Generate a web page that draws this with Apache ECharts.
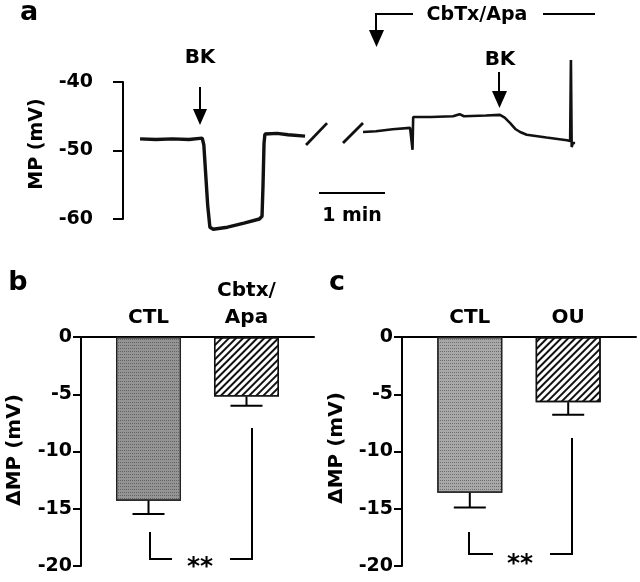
<!DOCTYPE html>
<html><head><meta charset="utf-8">
<script src="https://cdn.jsdelivr.net/npm/echarts@6/dist/echarts.min.js"></script>
<style>html,body{margin:0;padding:0;background:#fff}#c{width:640px;height:582px}</style>
</head><body><div id="c"></div>
<script>
// ---------- DATA ----------
// Panel a: membrane potential trace (time s, MP mV)
const traceBefore = [[15.5,-48.3],[30,-48.4],[45,-48.3],[60,-48.4],[72,-48.2],[73.5,-49.2],[75,-53],[77,-58],[79,-61.2],[82,-61.5],[95,-61.2],[110,-60.6],[124,-60.0],[126.4,-59.6],[127.3,-55],[128.2,-49],[129,-47.6],[140,-47.5],[150,-47.7],[165.5,-47.9]];
const traceAfter = [[218.2,-47.3],[230,-47.2],[245,-46.9],[261,-46.7],[262.6,-46.6],[263.2,-49.9],[263.8,-45.1],[280,-45.1],[300,-45.0],[306,-44.7],[310,-45.0],[330,-44.9],[342.7,-44.8],[347,-45.2],[352,-46.0],[357,-46.9],[361,-47.3],[367,-47.7],[385,-48.1],[403.6,-48.5],[406.5,-48.6],[407.2,-36.8],[407.9,-49.5],[409,-48.9],[411,-48.9]];
const breakMark1 = [[166.4,-49.2],[185.5,-46.0]];
const breakMark2 = [[200,-48.9],[218.2,-46.0]];
// Panel b
const catsB = ['CTL','Cbtx/\nApa'];
const meanB = [-14.3,-5.2];
const semB  = [1.15,0.8];
// Panel c
const catsC = ['CTL','OU'];
const meanC = [-13.6,-5.7];
const semC  = [1.3,1.1];

// ---------- STYLE ----------
const FONT = '"DejaVu Sans", "Liberation Sans", sans-serif';
const F = (s) => 'bold ' + s + 'px ' + FONT;
const stipple = (bg) => ({color: bg, borderColor:'#222', borderWidth:1.2,
  decal:{symbol:'rect', symbolSize:1, color:'rgba(40,40,40,0.45)', dashArrayX:[1,1], dashArrayY:[1,2], rotation:0}});
const hatch = {color:'#fff', borderColor:'#111', borderWidth:1.4,
  decal:{symbol:'rect', symbolSize:1, color:'#111', dashArrayX:[1,0], dashArrayY:[1.6,2.6], rotation:-Math.PI/4}};

const chart = echarts.init(document.getElementById('c'), null, {renderer:'canvas'});

function barAxes(idx, cats){
  return {
    x: {type:'value', gridIndex:idx, min:0.311, max:2.689, position:'top',
      axisLine:{show:true, onZero:true, lineStyle:{color:'#000', width:2}},
      axisTick:{show:false}, splitLine:{show:false},
      axisLabel:{customValues:[1,2], formatter:(v)=>cats[Math.round(v)-1] || '',
        color:'#000', fontWeight:'bold', fontSize:20, fontFamily:FONT, margin:6, lineHeight:27}},
    y: {type:'value', gridIndex:idx, min:-20, max:0, interval:5,
      axisLine:{show:true, onZero:false, lineStyle:{color:'#000', width:2}},
      axisTick:{show:true, length:8, lineStyle:{color:'#000', width:2}},
      splitLine:{show:false},
      axisLabel:{color:'#000', fontWeight:'bold', fontSize:19, fontFamily:FONT, margin:9}}
  };
}
const axB = barAxes(1, catsB), axC = barAxes(2, catsC);

function barData(means){
  return means.map((m,i)=>({value:[i+1, m], itemStyle: i===0 ? null : hatch}));
}
function errData(means, sems){ return means.map((m,i)=>[i+1, m, sems[i]]); }
function errRender(params, api){
  const x = api.value(0), m = api.value(1), e = api.value(2);
  const p0 = api.coord([x, m]), p1 = api.coord([x, m - e]);
  const half = 16;
  return {type:'group', children:[
    {type:'line', shape:{x1:p0[0], y1:p0[1], x2:p1[0], y2:p1[1]}, style:{stroke:'#000', lineWidth:2}},
    {type:'line', shape:{x1:p1[0]-half, y1:p1[1], x2:p1[0]+half, y2:p1[1]}, style:{stroke:'#000', lineWidth:2}}
  ]};
}

const txt = (t, x, y, size, extra) => Object.assign({type:'text', x:x, y:y, z:10,
  style:{text:t, font:F(size), fill:'#000', align:'center', verticalAlign:'middle'}}, extra||{});
const pl = (pts, w) => ({type:'polyline', z:10, shape:{points:pts}, style:{stroke:'#000', lineWidth:w||2, fill:null}});
const tri = (pts) => ({type:'polygon', z:10, shape:{points:pts}, style:{fill:'#000'}});

const option = {
  backgroundColor:'#fff',
  animation:false,
  grid:[
    {left:123, top:82, width:462, height:137},
    {left:81, top:337, width:233, height:229},
    {left:402, top:337, width:234, height:229}
  ],
  xAxis:[
    {type:'value', gridIndex:0, min:0, max:420, show:false},
    axB.x, axC.x
  ],
  yAxis:[
    {type:'value', gridIndex:0, min:-60, max:-40, interval:10,
      axisLine:{show:true, lineStyle:{color:'#000', width:2}},
      axisTick:{show:true, length:10, lineStyle:{color:'#000', width:2}},
      splitLine:{show:false},
      axisLabel:{color:'#000', fontWeight:'bold', fontSize:19, fontFamily:FONT, margin:30}},
    axB.y, axC.y
  ],
  series:[
    {type:'line', xAxisIndex:0, yAxisIndex:0, data:traceBefore, symbol:'none', clip:false, lineStyle:{color:'#111', width:3.4}},
    {type:'line', xAxisIndex:0, yAxisIndex:0, data:traceAfter, symbol:'none', clip:false, lineStyle:{color:'#111', width:2.6}},
    {type:'line', xAxisIndex:0, yAxisIndex:0, data:breakMark1, symbol:'none', clip:false, lineStyle:{color:'#111', width:2.8}},
    {type:'line', xAxisIndex:0, yAxisIndex:0, data:breakMark2, symbol:'none', clip:false, lineStyle:{color:'#111', width:2.8}},
    {type:'bar', xAxisIndex:1, yAxisIndex:1, barWidth:65, data:barData(meanB), itemStyle:stipple('#949494')},
    {type:'custom', xAxisIndex:1, yAxisIndex:1, data:errData(meanB, semB), renderItem:errRender, z:5},
    {type:'bar', xAxisIndex:2, yAxisIndex:2, barWidth:65, data:barData(meanC), itemStyle:stipple('#a8a8a8')},
    {type:'custom', xAxisIndex:2, yAxisIndex:2, data:errData(meanC, semC), renderItem:errRender, z:5}
  ],
  graphic:[
    // panel letters
    txt('a', 29, 13, 27), txt('b', 18, 283, 27), txt('c', 337, 283, 27),
    // axis titles
    txt('MP (mV)', 37, 144, 19, {rotation:Math.PI/2}),
    txt('\u0394MP (mV)', 15, 450, 20, {rotation:Math.PI/2}),
    txt('\u0394MP (mV)', 337, 448, 20, {rotation:Math.PI/2}),
    // panel a annotations
    txt('BK', 200, 58, 20), pl([[200,87],[200,112]]), tri([[193,109],[207,109],[200,125]]),
    txt('BK', 500, 60, 20), pl([[499,72],[499,95]]), tri([[492,91],[507,91],[499.5,108]]),
    txt('CbTx/Apa', 477, 15, 19),
    pl([[413,14],[376,14],[376,34]]), tri([[369,30],[384,30],[376.5,47]]),
    pl([[543,14],[595,14]]),
    pl([[319,193],[385,193]]), txt('1 min', 352, 216, 19),
    // significance brackets
    pl([[150,532],[150,559],[172,559]]), pl([[230,559],[252,559],[252,428]]), txt('**', 200, 567, 25),
    pl([[469,532],[469,554],[493,554]]), pl([[550,554],[572,554],[572,438]]), txt('**', 520, 564, 25)
  ]
};
chart.setOption(option);
</script></body></html>
